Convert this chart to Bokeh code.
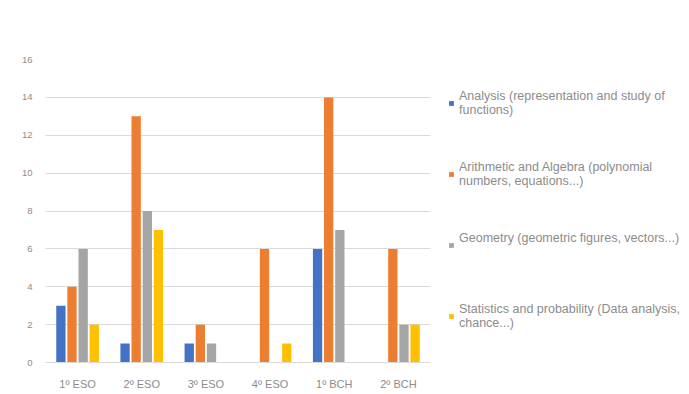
from bokeh.plotting import figure
from bokeh.models import ColumnDataSource, Legend, LegendItem, FixedTicker
from bokeh.transform import dodge
from bokeh.embed import file_html
from bokeh.resources import INLINE

categories = ["1º ESO", "2º ESO", "3º ESO", "4º ESO", "1º BCH", "2º BCH"]
analysis = [3, 1, 1, 0, 6, 0]
arithmetic = [4, 13, 2, 6, 14, 6]
geometry = [6, 8, 1, 0, 7, 2]
statistics = [2, 7, 0, 1, 0, 2]
series_names = [
    "Analysis (representation and study of\nfunctions)",
    "Arithmetic and Algebra (polynomial\nnumbers, equations...)",
    "Geometry (geometric figures, vectors...)\n\u00a0",
    "Statistics and probability (Data analysis,\nchance...)",
]
colors = ["#4472C4", "#ED7D31", "#A5A5A5", "#FFC000"]
y_ticks = [0, 2, 4, 6, 8, 10, 12, 14, 16]

source = ColumnDataSource(dict(cat=categories, a=analysis, b=arithmetic, c=geometry, d=statistics))

p = figure(x_range=categories, y_range=(0, 16), width=689, height=394,
           frame_width=385, frame_height=303,
           output_backend="svg", toolbar_location=None,
           min_border_left=45, min_border_top=59, min_border_bottom=32, min_border_right=10)

offsets = [-0.26, -0.087, 0.087, 0.26]
renderers = []
for key, off, col in zip(["a", "b", "c", "d"], offsets, colors):
    r = p.vbar(x=dodge("cat", off, range=p.x_range), top=key, width=0.145, source=source,
               fill_color=col, line_color=None)
    renderers.append(r)

p.outline_line_color = None
p.xgrid.grid_line_color = None
p.ygrid.grid_line_color = "#D9D9D9"
p.ygrid.grid_line_width = 1
p.yaxis.ticker = FixedTicker(ticks=y_ticks)
p.yaxis.axis_line_color = None
p.yaxis.major_tick_line_color = None
p.yaxis.minor_tick_line_color = None
p.yaxis.major_label_standoff = 7
p.xaxis.axis_line_color = "#D9D9D9"
p.xaxis.major_tick_line_color = None
p.xaxis.major_label_standoff = 9
for ax in (p.xaxis, p.yaxis):
    ax.major_label_text_color = "#8C8C8C"
    ax.major_label_text_font = "Liberation Sans"
p.xaxis.major_label_text_font_size = "11px"
p.yaxis.major_label_text_font_size = "9.5px"
p.x_range.range_padding = 0.0

legend = Legend(items=[LegendItem(label=n, renderers=[r]) for n, r in zip(series_names, renderers)],
                location=(18, 32), orientation="vertical", spacing=43,
                glyph_width=6, glyph_height=6, label_text_font_size="12.5px",
                label_text_color="#8C8C8C", label_text_font="Liberation Sans",
                border_line_color=None, background_fill_alpha=0, label_standoff=5,
                label_text_line_height=1.2, margin=0, padding=0)
p.add_layout(legend, "right")

open("out.html", "w").write(file_html(p, INLINE))
